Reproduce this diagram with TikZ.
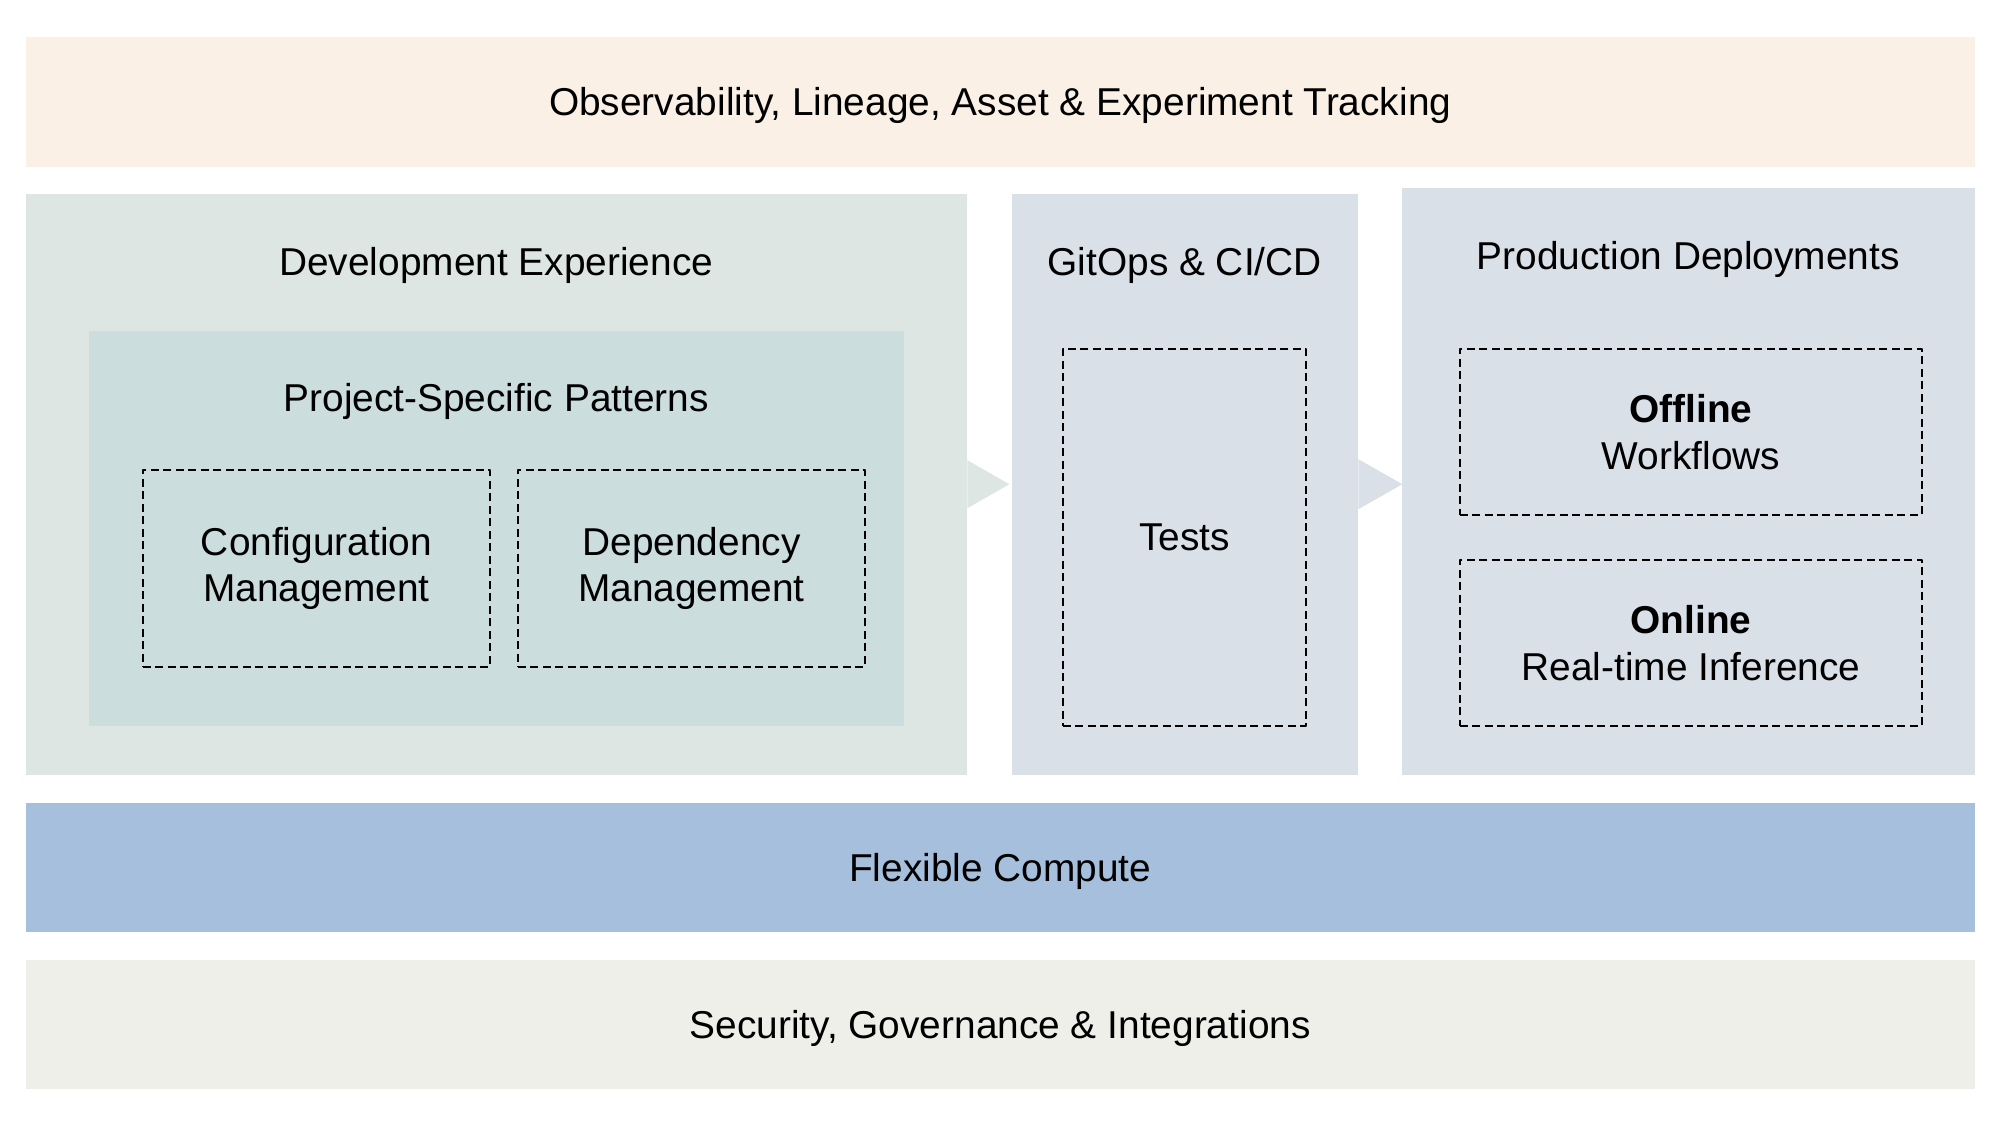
\documentclass[tikz,border=0pt]{standalone}
\usepackage{fontspec}
\setmainfont{Liberation Sans}
\usetikzlibrary{positioning}
\definecolor{obsfill}{HTML}{FAF0E6}
\definecolor{devfill}{HTML}{DDE6E3}
\definecolor{projfill}{HTML}{CBDDDD}
\definecolor{deployfill}{HTML}{D9E0E8}
\definecolor{computefill}{HTML}{A5BFDC}
\definecolor{secfill}{HTML}{EFEFEA}
\begin{document}
\begin{tikzpicture}[x=0.1mm, y=-0.1mm, font=\fontsize{11.05}{13.3}\selectfont, line join=round, line cap=round,
	panel/.style={anchor=north west, inner sep=0pt, align=center},
	band/.style={panel, text depth=0pt, minimum width=194.9mm},
	dashbox/.style={panel, draw, dash pattern=on 0.8mm off 0.45mm, line width=0.55pt, line cap=butt},
	title/.style={inner sep=0pt, text depth=0pt}]
	\useasboundingbox (0,0) rectangle (2000,1125);
	% bands
	\node[band, fill=obsfill, minimum height=13mm] (obs) at (25,36) {Observability, Lineage, Asset \& Experiment Tracking};
	\node[band, fill=computefill, minimum height=12.9mm] (compute) at (25,802) {Flexible Compute};
	\node[band, fill=secfill, minimum height=12.9mm] (sec) at (25,959) {Security, Governance \& Integrations};
	% columns
	\node[panel, fill=devfill, minimum width=94.1mm, minimum height=58.1mm] (dev) at (25,193) {};
	\node[panel, fill=deployfill, minimum width=34.6mm, minimum height=58.1mm] (gitops) at (1011,193) {};
	\node[panel, fill=deployfill, minimum width=57.3mm, minimum height=58.7mm] (prod) at (1401,187) {};
	\fill[devfill] (dev.east) ++(0,-24) -- ++(42,24) -- ++(-42,24) -- cycle;
	\fill[deployfill] (gitops.east) ++(0,-25) -- ++(44,25) -- ++(-44,25) -- cycle;
	\node[title] (devtitle) at ([yshift=-6.85mm]dev.north) {Development Experience};
	\node[title] (gitopstitle) at ([yshift=-6.85mm]gitops.north) {GitOps \& CI/CD};
	\node[title] (prodtitle) at ([yshift=-6.8mm]prod.north) {Production Deployments};
	% inner boxes
	\node[panel, fill=projfill, minimum width=81.5mm, minimum height=39.5mm] (proj) at (88,330) {};
	\node[title] (projtitle) at ([yshift=-6.7mm]proj.north) {Project-Specific Patterns};
	\node[dashbox, minimum width=34.7mm, minimum height=19.7mm] (config) at (142,469) {Configuration\\Management};
	\node[dashbox, minimum width=34.7mm, minimum height=19.7mm] (depend) at (517,469) {Dependency\\Management};
	\node[dashbox, minimum width=24.3mm, minimum height=37.7mm] (tests) at (1062,348) {Tests};
	\node[dashbox, minimum width=46.2mm, minimum height=16.6mm] (offline) at (1459,348) {{\bfseries Offline}\\Workflows};
	\node[dashbox, minimum width=46.2mm, minimum height=16.6mm] (online) at (1459,559) {{\bfseries Online}\\Real-time Inference};
\end{tikzpicture}
\end{document}
